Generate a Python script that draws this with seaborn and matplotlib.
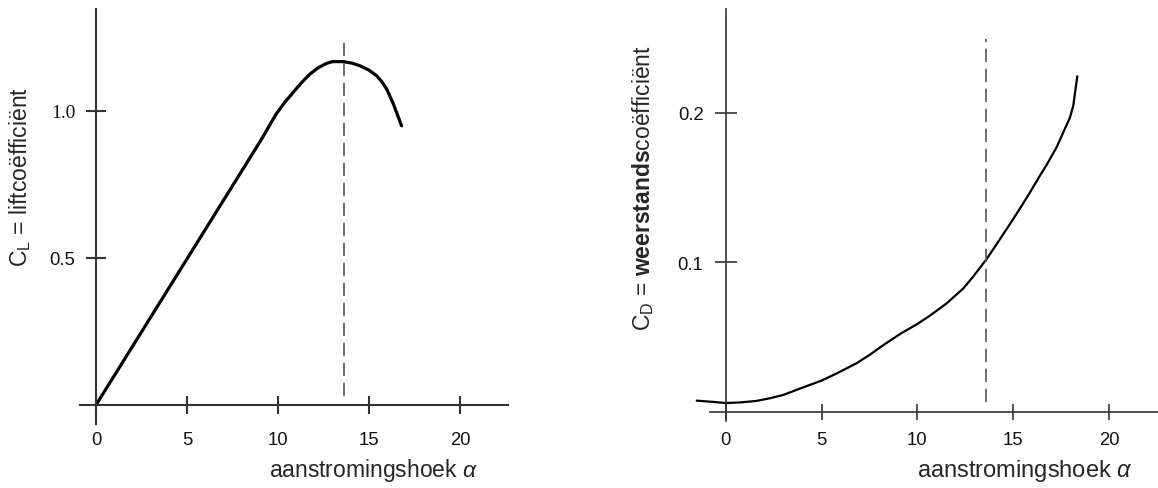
import matplotlib
matplotlib.use("Agg")
import matplotlib.pyplot as plt
import seaborn as sns

# Liftcoefficient (links)
alpha_lift = [0, 9.0, 9.92, 10.4, 10.84, 11.3, 11.76, 12.2, 12.67, 13.0, 13.59, 14.05, 14.5, 15.0, 15.42, 15.7, 15.97, 16.34, 16.79]
cl = [0, 0.893, 0.99, 1.03, 1.062, 1.095, 1.124, 1.145, 1.160, 1.166, 1.166, 1.161, 1.152, 1.137, 1.118, 1.098, 1.073, 1.022, 0.948]

# Weerstandscoefficient (rechts)
alpha_drag = [-1.51, -0.7, 0, 0.75, 1.6, 2.31, 3.0, 3.88, 5.0, 5.79, 6.84, 7.53, 8.23, 9.1, 10.0, 10.66,
              11.53, 12.4, 12.92, 13.62, 14.32, 15.01, 15.53, 15.88, 16.4, 16.75, 17.27, 17.62, 17.97, 18.14, 18.35]
cd = [0.0074, 0.0066, 0.0058, 0.0062, 0.0072, 0.009, 0.0112, 0.0155, 0.0208, 0.0256, 0.0325, 0.0382, 0.0446, 0.052, 0.0587, 0.0643,
      0.0725, 0.0825, 0.0905, 0.1022, 0.1156, 0.129, 0.1395, 0.1468, 0.158, 0.1652, 0.177, 0.187, 0.197, 0.2048, 0.2245]

alpha_stall = 13.6
xticks = [0, 5, 10, 15, 20]
cl_ticks = [0.5, 1.0]
cl_ticklabels = ['0.5', '1.0']
cd_ticks = [0.1, 0.2]
cd_ticklabels = ['0.1', '0.2']

sns.set_style("white")
plt.rcParams['font.family'] = ['Liberation Sans', 'DejaVu Sans']
plt.rcParams['mathtext.fontset'] = 'custom'
plt.rcParams['mathtext.rm'] = 'Liberation Sans'
plt.rcParams['mathtext.it'] = 'Liberation Sans:italic'
plt.rcParams['mathtext.bf'] = 'Liberation Sans:bold'

W, H = 1158, 489
fig = plt.figure(figsize=(W / 100, H / 100), dpi=100)

asc = '#333333'

def opzet(ax, lw, xlen, ylen, xpad, ypad):
    for s in ['top', 'right']:
        ax.spines[s].set_visible(False)
    for s in ['left', 'bottom']:
        ax.spines[s].set_position(('data', 0))
        ax.spines[s].set_linewidth(lw)
        ax.spines[s].set_color(asc)
    ax.tick_params(axis='x', bottom=True, direction='inout', length=xlen, width=lw, color=asc,
                   pad=xpad, labelsize=13.3, labelcolor='#111111')
    ax.tick_params(axis='y', left=True, direction='inout', length=ylen, width=lw, color=asc,
                   pad=ypad, labelsize=13.3, labelcolor='#111111')
    ax.set_facecolor('none')

# ---- linker grafiek ----
# 0 op x=96px, 18.2 px per graad; 0 op y=406px, 294.5 px per eenheid
ax1 = fig.add_axes([80 / W, (H - 425) / H, 428 / W, 415 / H])
sns.lineplot(x=alpha_lift, y=cl, ax=ax1, color='black', lw=2.3, estimator=None, sort=False)
ax1.plot([alpha_stall, alpha_stall], [0.03, 1.25], color='#555555', lw=1.2, dashes=(8, 4))
ax1.set_xlim((80 - 96) / 18.2, (508 - 96) / 18.2)
ax1.set_ylim((406 - 425) / 294.5, (406 - 10) / 294.5)
opzet(ax1, 1.5, 13, 15, 12, 7.5)
ax1.set_xticks(xticks, [str(t) for t in xticks])
ax1.set_yticks(cl_ticks, cl_ticklabels)
for lbl in ax1.get_yticklabels():
    if lbl.get_text() == '1.0':
        lbl.set_fontfamily('Liberation Serif')
        lbl.set_fontsize(14)
ax1.set_xlabel('aanstromingshoek $\\alpha$', fontsize=16.5, ha='right', va='center')
ax1.xaxis.set_label_coords((478 - 80) / 428, (425 - 471) / 415)
ax1.set_ylabel('C$_\\mathregular{L}$ = liftcoëfficiënt', fontsize=16.5, va='center')
ax1.yaxis.set_label_coords((20 - 80) / 428, (425 - 177) / 415)

# ---- rechter grafiek ----
# 0 op x=725.7px, 19.16 px per graad; 0 op y=412.7px, 1494 px per eenheid
x0, sx = 725.7, 19.16
y0, sy = 412.7, 1494
xl = -1.6
left_px = x0 + xl * sx
ax2 = fig.add_axes([left_px / W, (H - 421.7) / H, (W - left_px) / W, 411.7 / H])
sns.lineplot(x=alpha_drag, y=cd, ax=ax2, color='black', lw=1.6, estimator=None, sort=False)
ax2.plot([alpha_stall, alpha_stall], [0.0063, 0.2494], color='#555555', lw=1.2, dashes=(8, 4))
ax2.set_xlim(xl, (W - x0) / sx)
ax2.set_ylim((y0 - 421.7) / sy, (y0 - 10) / sy)
opzet(ax2, 1.2, 12, 15.5, 7.7, 8.3)
ax2.spines['bottom'].set_bounds((710 - x0) / sx, (W - x0) / sx)
ax2.set_xticks(xticks, [str(t) for t in xticks])
ax2.set_yticks(cd_ticks, cd_ticklabels)
wax = W - left_px
ax2.set_xlabel('aanstromingshoek $\\alpha$', fontsize=17, ha='right', va='center')
ax2.xaxis.set_label_coords((1133 - left_px) / wax, (421.7 - 471) / 411.7)
ax2.set_ylabel('C$_\\mathregular{D}$ = $\\mathbf{weerstands}$coëfficiënt', fontsize=16.5, va='center')
ax2.yaxis.set_label_coords((643 - left_px) / wax, (421.7 - 188.5) / 411.7)

fig.savefig('out.png', dpi=100, facecolor='white')
